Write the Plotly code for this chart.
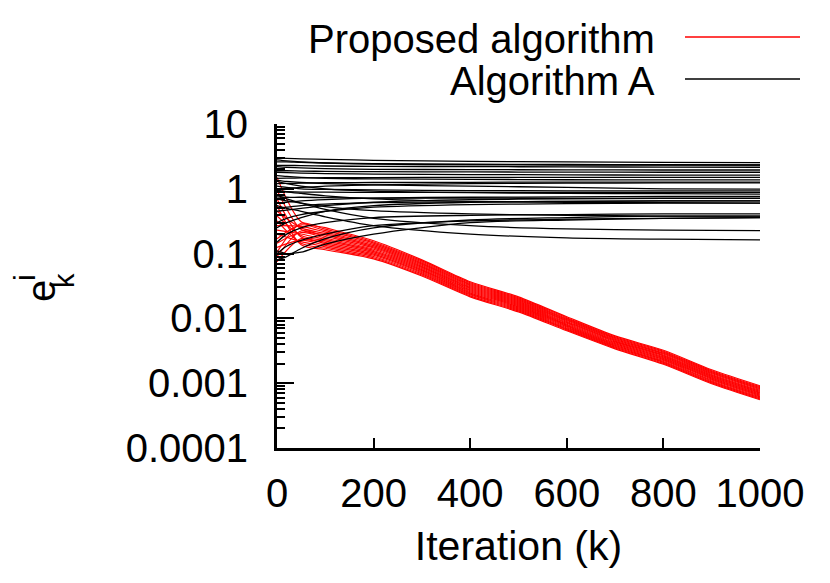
import plotly.graph_objects as go

# ---------------- data ----------------
black_x = [0, 20, 50, 100, 200, 400, 600, 800, 1000]
black_lines = [
    [3.0, 2.95, 2.9, 2.85, 2.75, 2.65, 2.6, 2.55, 2.53],
    [2.6, 2.6, 2.55, 2.5, 2.45, 2.4, 2.37, 2.35, 2.33],
    [2.3, 2.3, 2.28, 2.25, 2.22, 2.2, 2.18, 2.16, 2.15],
    [2.2, 2.15, 2.1, 2.05, 2.0, 1.98, 1.96, 1.95, 1.95],
    [1.9, 1.9, 1.88, 1.86, 1.84, 1.82, 1.81, 1.80, 1.80],
    [1.8, 1.78, 1.75, 1.72, 1.68, 1.66, 1.64, 1.63, 1.63],
    [1.45, 1.46, 1.47, 1.48, 1.49, 1.5, 1.5, 1.5, 1.5],
    [1.6, 1.55, 1.5, 1.45, 1.42, 1.4, 1.38, 1.37, 1.37],
    [1.2, 1.21, 1.22, 1.24, 1.25, 1.26, 1.27, 1.27, 1.27],
    [1.35, 1.3, 1.25, 1.2, 1.15, 1.1, 1.05, 1.0, 0.99],
    [1.1, 1.05, 1.0, 0.98, 0.96, 0.94, 0.93, 0.93, 0.93],
    [0.9, 0.9, 0.89, 0.89, 0.88, 0.88, 0.88, 0.88, 0.88],
    [1.3, 1.2, 1.1, 1.0, 0.92, 0.87, 0.85, 0.84, 0.83],
    [0.6, 0.62, 0.65, 0.68, 0.72, 0.74, 0.75, 0.76, 0.76],
    [0.75, 0.74, 0.74, 0.73, 0.72, 0.72, 0.71, 0.71, 0.71],
    [0.5, 0.52, 0.55, 0.58, 0.61, 0.63, 0.64, 0.65, 0.65],
    [0.95, 0.9, 0.85, 0.78, 0.7, 0.64, 0.62, 0.61, 0.60],
    [0.3, 0.35, 0.4, 0.45, 0.52, 0.57, 0.59, 0.6, 0.6],
    [0.15, 0.2, 0.25, 0.3, 0.36, 0.39, 0.4, 0.41, 0.41],
    [0.7, 0.65, 0.6, 0.53, 0.46, 0.41, 0.39, 0.38, 0.38],
    [0.1, 0.13, 0.16, 0.2, 0.27, 0.32, 0.34, 0.35, 0.36],
    [0.8, 0.7, 0.6, 0.48, 0.35, 0.27, 0.24, 0.23, 0.227],
    [0.55, 0.5, 0.45, 0.37, 0.27, 0.2, 0.175, 0.167, 0.163],
    [0.11, 0.1, 0.105, 0.14, 0.2, 0.3, 0.33, 0.35, 0.36],
    [2.8, 2.7, 2.6, 2.5, 2.4, 2.35, 2.33, 2.33, 2.33],
    [1.0, 1.02, 1.05, 1.1, 1.15, 1.2, 1.22, 1.23, 1.23],
    [0.45, 0.47, 0.5, 0.55, 0.62, 0.68, 0.7, 0.71, 0.71],
    [0.25, 0.3, 0.36, 0.45, 0.55, 0.62, 0.64, 0.65, 0.65],
    [0.08, 0.09, 0.12, 0.17, 0.25, 0.33, 0.36, 0.38, 0.38],
]

red_x = [0, 50, 100, 200, 300, 400, 500, 600, 700, 800, 900, 1000]
red_lines = [
    [1.5, 0.310, 0.2512, 0.1578, 0.0801, 0.03673, 0.02153, 0.01059, 0.00537, 0.003221, 0.001611, 0.000912],
    [0.105, 0.2936, 0.2384, 0.1511, 0.0771, 0.03544, 0.02077, 0.01024, 0.005208, 0.003116, 0.001558, 0.000882],
    [0.17, 0.2780, 0.2263, 0.1448, 0.0742, 0.03420, 0.02005, 0.00991, 0.005051, 0.003014, 0.001508, 0.000853],
    [0.27, 0.2633, 0.2148, 0.1387, 0.0714, 0.03301, 0.01934, 0.00959, 0.004898, 0.002916, 0.001459, 0.000826],
    [0.45, 0.2493, 0.2038, 0.1328, 0.0687, 0.03185, 0.01866, 0.00927, 0.004750, 0.002821, 0.001411, 0.000799],
    [0.95, 0.2361, 0.1935, 0.1273, 0.0661, 0.03074, 0.01801, 0.00897, 0.004607, 0.002729, 0.001365, 0.000773],
    [0.09, 0.2236, 0.1836, 0.1219, 0.0636, 0.02966, 0.01738, 0.00868, 0.004468, 0.002640, 0.001321, 0.000748],
    [0.145, 0.2118, 0.1743, 0.1168, 0.0612, 0.02862, 0.01677, 0.00840, 0.004333, 0.002554, 0.001277, 0.000723],
    [0.23, 0.2005, 0.1654, 0.1118, 0.0589, 0.02762, 0.01618, 0.00812, 0.004202, 0.002471, 0.001236, 0.000700],
    [0.38, 0.1899, 0.1570, 0.1072, 0.0567, 0.02666, 0.01561, 0.00786, 0.004075, 0.002390, 0.001196, 0.000677],
    [0.7, 0.1798, 0.1490, 0.1027, 0.0546, 0.02572, 0.01506, 0.00760, 0.003952, 0.002312, 0.001157, 0.000655],
    [0.075, 0.1703, 0.1414, 0.0983, 0.0525, 0.02482, 0.01453, 0.00736, 0.003833, 0.002237, 0.001119, 0.000633],
    [0.125, 0.1613, 0.1342, 0.0942, 0.0506, 0.02395, 0.01402, 0.00712, 0.003717, 0.002164, 0.001082, 0.000613],
    [0.2, 0.1527, 0.1274, 0.0903, 0.0487, 0.02312, 0.01353, 0.00688, 0.003605, 0.002094, 0.001047, 0.000593],
    [0.32, 0.1446, 0.1209, 0.0864, 0.0468, 0.02231, 0.01306, 0.00666, 0.003496, 0.002025, 0.001013, 0.000573],
    [0.55, 0.1370, 0.1148, 0.0828, 0.0451, 0.02153, 0.01260, 0.00644, 0.003390, 0.001959, 0.000980, 0.000555],
]

x_ticks = [0, 200, 400, 600, 800, 1000]
y_ticks = [0.0001, 0.001, 0.01, 0.1, 1, 10]
y_ticktext = ["0.0001", "0.001", "0.01", "0.1", "1", "10"]
legend_labels = ["Proposed algorithm", "Algorithm A"]
legend_colors = ["#ff0000", "#000000"]
x_title = "Iteration (k)"

# ---------------- figure ----------------
FONT = "Liberation Sans, Arial, sans-serif"
fig = go.Figure()

for ys in red_lines:
    fig.add_trace(go.Scatter(x=red_x, y=ys, mode="lines",
                             line=dict(color=legend_colors[0], width=1.2, shape="spline", smoothing=0.8),
                             showlegend=False, hoverinfo="skip"))
for ys in black_lines:
    fig.add_trace(go.Scatter(x=black_x, y=ys, mode="lines",
                             line=dict(color=legend_colors[1], width=1.3, shape="spline", smoothing=0.8),
                             showlegend=False, hoverinfo="skip"))

W, H = 830, 583
OFF = 8  # page body offset
PL, PT, PW, PH = 277, 124, 483, 324  # plot box in screen pixels
L, T = PL - OFF, PT - OFF
R = W - L - PW
B = H - T - PH

def px(xp):
    return (xp - PL) / PW

def py(yp):
    return (PT + PH - yp) / PH

fig.update_layout(
    width=W, height=H,
    margin=dict(l=L, r=R, t=T, b=B, autoexpand=False),
    paper_bgcolor="white", plot_bgcolor="white",
    font=dict(family=FONT, size=40, color="black"),
    showlegend=False,
    xaxis=dict(range=[0, 1000], tickvals=x_ticks, ticks="inside", ticklen=10, tickwidth=2,
               tickcolor="black", showline=True, linecolor="black", linewidth=2.5,
               showgrid=False, zeroline=False, ticklabelstandoff=8,
               title=dict(text=x_title, font=dict(size=41), standoff=18)),
    yaxis=dict(type="log", range=[-4, 1], tickvals=y_ticks, ticktext=y_ticktext,
               ticks="inside", ticklen=17, tickwidth=2, tickcolor="black",
               showline=True, linecolor="black", linewidth=3, showgrid=False, zeroline=False,
               ticklabelstandoff=18,
               minor=dict(ticks="inside", ticklen=8, tickwidth=1.5, tickcolor="black", dtick="D1",
                          showgrid=False)),
)

# legend (text then sample line, gnuplot style)
leg_y = [39, 81]
line_y = [37, 79]
for lab, col, yy, ly in zip(legend_labels, legend_colors, leg_y, line_y):
    fig.add_annotation(xref="paper", yref="paper", x=px(657), y=py(yy), text=lab,
                       showarrow=False, xanchor="right", yanchor="middle",
                       font=dict(family=FONT, size=40, color="black"))
    fig.add_shape(type="line", xref="paper", yref="paper", x0=px(685), x1=px(800),
                  y0=py(ly), y1=py(ly), line=dict(color=col, width=1.5))

# y-axis label e_k^i
fig.add_annotation(xref="paper", yref="paper", x=px(41), y=py(291), text="e", textangle=-90,
                   showarrow=False, xanchor="center", yanchor="middle",
                   font=dict(family=FONT, size=40, color="black"))
fig.add_annotation(xref="paper", yref="paper", x=px(64), y=py(281), text="k", textangle=-90,
                   showarrow=False, xanchor="center", yanchor="middle",
                   font=dict(family=FONT, size=29, color="black"))
fig.add_annotation(xref="paper", yref="paper", x=px(24), y=py(278), text="i", textangle=-90,
                   showarrow=False, xanchor="center", yanchor="middle",
                   font=dict(family=FONT, size=30, color="black"))

fig.write_html("out.html")
